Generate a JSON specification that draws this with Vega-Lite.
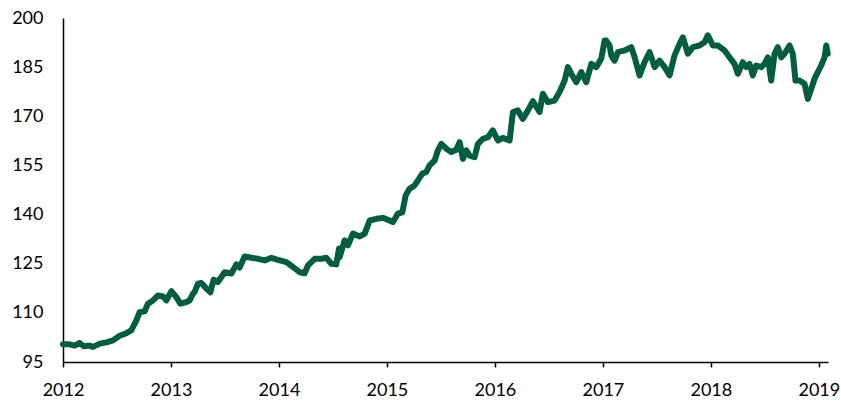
{
  "$schema": "https://vega.github.io/schema/vega-lite/v6.json",
  "autosize": "none",
  "width": 765,
  "height": 344,
  "padding": {"left": 63, "top": 18, "right": 13, "bottom": 41},
  "background": "white",
  "config": {"view": {"stroke": null}},
  "data": {"values": [
    {"t": 2012.000, "v": 100.4}, {"t": 2012.062, "v": 100.4}, {"t": 2012.108, "v": 100.0}, {"t": 2012.155, "v": 100.8},
    {"t": 2012.192, "v": 99.8}, {"t": 2012.247, "v": 100.0}, {"t": 2012.278, "v": 99.6}, {"t": 2012.340, "v": 100.6},
    {"t": 2012.402, "v": 101.0}, {"t": 2012.463, "v": 101.6}, {"t": 2012.525, "v": 103.0}, {"t": 2012.587, "v": 103.8},
    {"t": 2012.633, "v": 104.7}, {"t": 2012.680, "v": 107.7}, {"t": 2012.710, "v": 110.2}, {"t": 2012.756, "v": 110.5},
    {"t": 2012.787, "v": 112.8}, {"t": 2012.833, "v": 113.8}, {"t": 2012.880, "v": 115.3}, {"t": 2012.926, "v": 115.0},
    {"t": 2012.957, "v": 113.8}, {"t": 2013.004, "v": 116.6}, {"t": 2013.050, "v": 114.8}, {"t": 2013.087, "v": 112.8},
    {"t": 2013.143, "v": 113.3}, {"t": 2013.173, "v": 113.8}, {"t": 2013.204, "v": 115.9}, {"t": 2013.219, "v": 116.3},
    {"t": 2013.250, "v": 118.9}, {"t": 2013.281, "v": 119.1}, {"t": 2013.328, "v": 117.4}, {"t": 2013.365, "v": 116.3},
    {"t": 2013.395, "v": 120.1}, {"t": 2013.435, "v": 119.4}, {"t": 2013.497, "v": 122.4}, {"t": 2013.559, "v": 122.0},
    {"t": 2013.606, "v": 124.8}, {"t": 2013.636, "v": 123.8}, {"t": 2013.682, "v": 127.2}, {"t": 2013.744, "v": 126.8},
    {"t": 2013.806, "v": 126.5}, {"t": 2013.868, "v": 126.0}, {"t": 2013.930, "v": 126.8}, {"t": 2013.991, "v": 126.2},
    {"t": 2014.069, "v": 125.5}, {"t": 2014.130, "v": 124.0}, {"t": 2014.192, "v": 122.4}, {"t": 2014.238, "v": 122.1},
    {"t": 2014.269, "v": 124.5}, {"t": 2014.331, "v": 126.5}, {"t": 2014.393, "v": 126.5}, {"t": 2014.439, "v": 126.8},
    {"t": 2014.485, "v": 125.0}, {"t": 2014.531, "v": 124.8}, {"t": 2014.556, "v": 129.6}, {"t": 2014.562, "v": 127.0},
    {"t": 2014.608, "v": 132.1}, {"t": 2014.639, "v": 130.6}, {"t": 2014.685, "v": 134.2}, {"t": 2014.747, "v": 133.3},
    {"t": 2014.794, "v": 134.2}, {"t": 2014.840, "v": 138.2}, {"t": 2014.902, "v": 138.7}, {"t": 2014.963, "v": 139.0},
    {"t": 2015.009, "v": 138.4}, {"t": 2015.056, "v": 137.7}, {"t": 2015.102, "v": 140.3}, {"t": 2015.143, "v": 140.7},
    {"t": 2015.173, "v": 145.8}, {"t": 2015.210, "v": 147.9}, {"t": 2015.256, "v": 148.9}, {"t": 2015.287, "v": 150.4},
    {"t": 2015.328, "v": 152.5}, {"t": 2015.365, "v": 153.0}, {"t": 2015.395, "v": 155.0}, {"t": 2015.442, "v": 156.5},
    {"t": 2015.472, "v": 159.6}, {"t": 2015.504, "v": 161.6}, {"t": 2015.550, "v": 160.1}, {"t": 2015.596, "v": 159.1},
    {"t": 2015.643, "v": 159.8}, {"t": 2015.673, "v": 162.1}, {"t": 2015.704, "v": 157.0}, {"t": 2015.735, "v": 159.6},
    {"t": 2015.766, "v": 158.0}, {"t": 2015.812, "v": 157.5}, {"t": 2015.843, "v": 161.6}, {"t": 2015.889, "v": 163.1},
    {"t": 2015.935, "v": 163.6}, {"t": 2015.981, "v": 165.7}, {"t": 2016.028, "v": 162.6}, {"t": 2016.074, "v": 163.4},
    {"t": 2016.136, "v": 162.6}, {"t": 2016.167, "v": 171.3}, {"t": 2016.213, "v": 171.8}, {"t": 2016.259, "v": 169.2},
    {"t": 2016.306, "v": 171.8}, {"t": 2016.352, "v": 174.6}, {"t": 2016.414, "v": 171.3}, {"t": 2016.444, "v": 176.9},
    {"t": 2016.491, "v": 174.3}, {"t": 2016.553, "v": 174.8}, {"t": 2016.599, "v": 177.4}, {"t": 2016.646, "v": 180.9},
    {"t": 2016.676, "v": 185.0}, {"t": 2016.707, "v": 183.0}, {"t": 2016.754, "v": 180.4}, {"t": 2016.800, "v": 183.5},
    {"t": 2016.846, "v": 180.4}, {"t": 2016.893, "v": 186.0}, {"t": 2016.939, "v": 185.0}, {"t": 2016.985, "v": 187.6},
    {"t": 2017.016, "v": 193.1}, {"t": 2017.031, "v": 193.1}, {"t": 2017.062, "v": 191.6}, {"t": 2017.078, "v": 188.6},
    {"t": 2017.108, "v": 187.0}, {"t": 2017.139, "v": 189.6}, {"t": 2017.201, "v": 190.1}, {"t": 2017.263, "v": 191.1},
    {"t": 2017.294, "v": 188.0}, {"t": 2017.340, "v": 182.5}, {"t": 2017.386, "v": 186.5}, {"t": 2017.433, "v": 189.6},
    {"t": 2017.479, "v": 185.0}, {"t": 2017.525, "v": 187.0}, {"t": 2017.572, "v": 185.0}, {"t": 2017.618, "v": 182.5},
    {"t": 2017.664, "v": 188.6}, {"t": 2017.710, "v": 192.1}, {"t": 2017.741, "v": 194.1}, {"t": 2017.787, "v": 189.1},
    {"t": 2017.833, "v": 191.1}, {"t": 2017.895, "v": 191.6}, {"t": 2017.942, "v": 192.6}, {"t": 2017.972, "v": 194.7},
    {"t": 2018.019, "v": 191.6}, {"t": 2018.065, "v": 191.6}, {"t": 2018.127, "v": 190.1}, {"t": 2018.173, "v": 188.0},
    {"t": 2018.219, "v": 186.0}, {"t": 2018.250, "v": 183.0}, {"t": 2018.296, "v": 186.5}, {"t": 2018.328, "v": 185.0},
    {"t": 2018.358, "v": 186.0}, {"t": 2018.389, "v": 182.5}, {"t": 2018.420, "v": 185.5}, {"t": 2018.467, "v": 185.0},
    {"t": 2018.497, "v": 186.0}, {"t": 2018.528, "v": 188.0}, {"t": 2018.559, "v": 180.9}, {"t": 2018.590, "v": 189.1},
    {"t": 2018.620, "v": 191.1}, {"t": 2018.652, "v": 188.0}, {"t": 2018.682, "v": 189.1}, {"t": 2018.729, "v": 191.6},
    {"t": 2018.759, "v": 189.1}, {"t": 2018.784, "v": 180.9}, {"t": 2018.821, "v": 180.9}, {"t": 2018.868, "v": 179.9},
    {"t": 2018.898, "v": 175.3}, {"t": 2018.930, "v": 178.4}, {"t": 2018.960, "v": 181.4}, {"t": 2018.991, "v": 183.5},
    {"t": 2019.022, "v": 185.5}, {"t": 2019.053, "v": 188.0}, {"t": 2019.069, "v": 191.6}, {"t": 2019.083, "v": 189.1}
  ]},
  "mark": {"type": "line", "color": "#035e41", "strokeWidth": 6, "strokeJoin": "round", "strokeCap": "round", "clip": false},
  "encoding": {
    "x": {
      "field": "t", "type": "quantitative",
      "scale": {"domain": [2012, 2019.085], "nice": false, "zero": false},
      "axis": {
        "title": null, "values": [2012, 2013, 2014, 2015, 2016, 2017, 2018, 2019], "format": "d",
        "grid": false, "domainColor": "#000000", "domainWidth": 1.5,
        "tickColor": "#000000", "tickWidth": 1.5, "tickSize": 5,
        "labelFont": "Lato", "labelFontSize": 18, "labelColor": "#000000", "labelPadding": 14,
        "labelFlush": false, "labelOverlap": false
      }
    },
    "y": {
      "field": "v", "type": "quantitative",
      "scale": {"domain": [95, 200], "nice": false, "zero": false},
      "axis": {
        "title": null, "values": [95, 110, 125, 140, 155, 170, 185, 200],
        "grid": false, "domainColor": "#000000", "domainWidth": 1.5,
        "ticks": false, "tickSize": 0,
        "labelFont": "Lato", "labelFontSize": 18, "labelColor": "#000000", "labelPadding": 20,
        "labelFlush": false, "labelOverlap": false
      }
    }
  }
}
